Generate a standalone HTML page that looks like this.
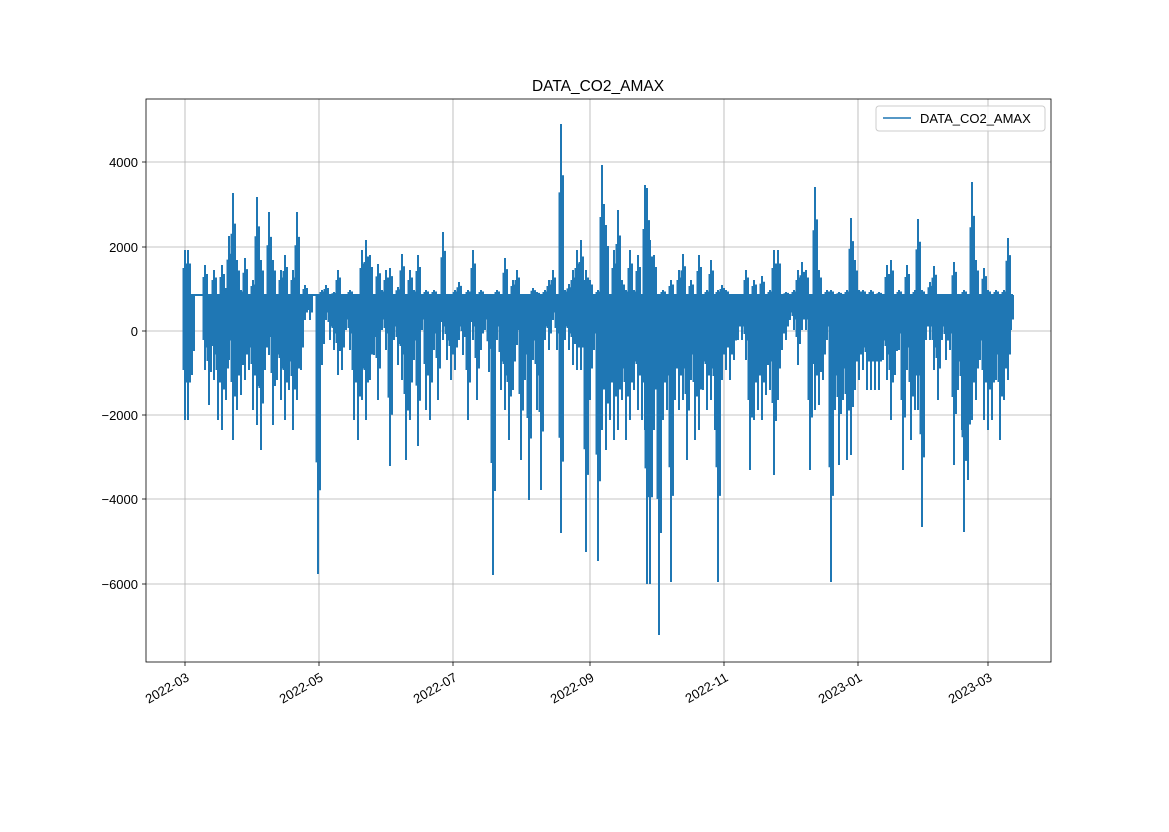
<!DOCTYPE html>
<html><head><meta charset="utf-8"><style>
html,body{margin:0;padding:0;background:#fff;}
svg text{font-family:"Liberation Sans","DejaVu Sans",sans-serif;font-size:13px;fill:#000;}
</style></head><body>
<svg width="1169" height="827" xmlns="http://www.w3.org/2000/svg">
<rect width="1169" height="827" fill="#fff"/>
<g stroke="#b0b0b0" stroke-width="0.8">
<line x1="185" y1="99" x2="185" y2="662"/><line x1="319" y1="99" x2="319" y2="662"/>
<line x1="453" y1="99" x2="453" y2="662"/><line x1="590" y1="99" x2="590" y2="662"/>
<line x1="724" y1="99" x2="724" y2="662"/><line x1="858" y1="99" x2="858" y2="662"/>
<line x1="988" y1="99" x2="988" y2="662"/>
<line x1="146" y1="162" x2="1051" y2="162"/><line x1="146" y1="247" x2="1051" y2="247"/>
<line x1="146" y1="331" x2="1051" y2="331"/><line x1="146" y1="415" x2="1051" y2="415"/>
<line x1="146" y1="499" x2="1051" y2="499"/><line x1="146" y1="584" x2="1051" y2="584"/>
</g>
<defs>
<path id="p" fill="none" stroke="#1f77b4" stroke-width="2" vector-effect="non-scaling-stroke" d="M185 295 V250 V420 V295 H1011
M188 295V250V420 M192 295V375 M205 295V265V370 M209 295V310V405 M214 295V270V380 M218 295V300V420
M222 295V265V430 M226 295V288V400 M229 295V236V360 M233 295V193V440 M237 295V260V410 M241 295V290V395
M245 295V258V380 M249 295V300V370 M253 295V280V410 M257 295V197V425 M261 295V260V450 M265 295V310V370
M269 295V212V355 M273 295V260V425 M277 295V300V380 M281 295V270V400 M285 295V255V420 M289 295V300V390
M293 295V270V430 M297 295V212V400 M301 295V310V370 M305 295V285V320 M310 295V300V320 M318 295V574
M322 295V290V365 M326 295V285V320 M330 295V295V340 M334 295V292V350 M338 295V270V375 M342 295V300V370
M346 295V296V330 M350 295V290V350 M354 295V300V420 M358 295V298V440 M362 295V250V400 M366 295V240V420
M370 295V255V380 M374 295V300V355 M378 295V264V400 M382 295V290V330 M386 295V270V350 M390 295V268V466
M394 295V300V340 M398 295V287V365 M402 295V254V380 M406 295V300V460 M410 295V270V420 M414 295V290V360
M418 295V255V446 M422 295V294V330 M426 295V290V410 M430 295V300V420 M434 295V290V350 M438 295V295V400
M443 295V232V340 M447 295V300V360 M451 295V294V380 M455 295V290V370 M459 295V282V340 M463 295V300V355
M468 295V290V420 M473 295V250V340 M477 295V300V400 M481 295V290V350 M485 295V296V330 M489 295V300V372
M493 295V575 M497 295V290V340 M501 295V296V390 M505 295V258V410 M509 295V300V440 M513 295V280V390
M517 295V270V345 M521 295V300V460 M525 295V295V380 M529 295V300V500 M533 295V288V360 M537 295V292V410
M541 295V296V490 M545 295V290V340 M549 295V280V350 M553 295V270V320 M557 295V300V350 M561 295V124V533
M565 295V290V340 M569 295V284V350 M573 295V270V365 M577 295V250V370 M581 295V240V370 M586 295V270V552
M590 295V280V400 M594 295V300V350 M598 295V290V561 M602 295V165V430 M606 295V225V450 M610 295V300V420
M614 295V250V440 M618 295V210V430 M622 295V280V400 M626 295V290V440 M630 295V250V420 M634 295V290V390
M638 295V255V410 M642 295V300V420 M645 295V185V430 M647 295V188V584 M650 295V240V584 M654 295V255V430
M659 295V300V635 M663 295V290V420 M667 295V300V410 M671 295V280V582 M675 295V300V400 M679 295V270V410
M683 295V254V400 M687 295V300V460 M691 295V280V380 M695 295V300V440 M699 295V255V430 M703 295V300V390
M707 295V290V410 M711 295V260V400 M715 295V300V430 M718 295V290V582 M722 295V285V380 M726 295V290V370
M730 295V300V380 M734 295V296V360 M738 295V300V340 M742 295V296V340 M746 295V270V360 M750 295V300V470
M754 295V280V420 M758 295V300V410 M762 295V276V420 M766 295V300V395 M770 295V290V390 M774 295V250V475
M778 295V250V400 M782 295V300V350 M786 295V292V340 M790 295V296V320 M794 295V290V330 M798 295V270V365
M802 295V262V330 M806 295V270V330 M810 295V300V470 M815 295V187V410 M819 295V270V405 M823 295V300V380
M827 295V290V340 M831 295V290V582 M835 295V300V410 M839 295V292V465 M843 295V300V400 M847 295V290V460
M851 295V218V455 M855 295V260V390 M859 295V290V380 M863 295V290V370 M867 295V296V390 M871 295V290V390
M875 295V300V390 M879 295V292V390 M883 295V296V360 M887 295V265V380 M891 295V260V420 M895 295V300V375
M899 295V290V350 M903 295V300V470 M907 295V265V370 M911 295V300V440 M915 295V290V410 M918 295V219V410
M922 295V290V527 M926 295V300V340 M930 295V282V340 M934 295V266V370 M938 295V300V400 M942 295V300V340
M946 295V294V360 M950 295V300V350 M954 295V262V465 M958 295V300V390 M962 295V298V430 M964 295V290V532
M968 295V300V480 M972 295V182V420 M976 295V260V400 M980 295V300V360 M984 295V268V420 M988 295V290V430
M992 295V300V420 M996 295V290V380 M1000 295V300V440 M1004 295V290V400 M1008 295V238V380 M1011 295V300V330"/>
</defs>
<use href="#p"/>
<use href="#p" transform="translate(2,88.5) scale(1,0.7)"/>
<use href="#p" transform="translate(-1.5,118) scale(1,0.6)"/>
<rect x="146" y="99" width="905" height="563" fill="none" stroke="#000" stroke-width="0.8"/>
<g stroke="#000" stroke-width="0.8">
<line x1="185" y1="662" x2="185" y2="666"/><line x1="319" y1="662" x2="319" y2="666"/>
<line x1="453" y1="662" x2="453" y2="666"/><line x1="590" y1="662" x2="590" y2="666"/>
<line x1="724" y1="662" x2="724" y2="666"/><line x1="858" y1="662" x2="858" y2="666"/>
<line x1="988" y1="662" x2="988" y2="666"/>
<line x1="142" y1="162" x2="146" y2="162"/><line x1="142" y1="247" x2="146" y2="247"/>
<line x1="142" y1="331" x2="146" y2="331"/><line x1="142" y1="415" x2="146" y2="415"/>
<line x1="142" y1="499" x2="146" y2="499"/><line x1="142" y1="584" x2="146" y2="584"/>
</g>
<g text-anchor="end">
<text x="138" y="167">4000</text><text x="138" y="252">2000</text><text x="138" y="336">0</text>
<text x="138" y="420">−2000</text><text x="138" y="504">−4000</text><text x="138" y="589">−6000</text>
</g>
<g text-anchor="end">
<text transform="translate(190,680) rotate(-30)">2022-03</text>
<text transform="translate(324,680) rotate(-30)">2022-05</text>
<text transform="translate(458,680) rotate(-30)">2022-07</text>
<text transform="translate(595,680) rotate(-30)">2022-09</text>
<text transform="translate(729,680) rotate(-30)">2022-11</text>
<text transform="translate(863,680) rotate(-30)">2023-01</text>
<text transform="translate(993,680) rotate(-30)">2023-03</text>
</g>
<text x="598" y="91" text-anchor="middle" style="font-size:15.5px">DATA_CO2_AMAX</text>
<rect x="876" y="106" width="169" height="25" rx="3" fill="#fff" fill-opacity="0.8" stroke="#ccc"/>
<line x1="883" y1="118" x2="911" y2="118" stroke="#1f77b4" stroke-width="1.5"/>
<text x="920" y="123">DATA_CO2_AMAX</text>
</svg>
</body></html>
